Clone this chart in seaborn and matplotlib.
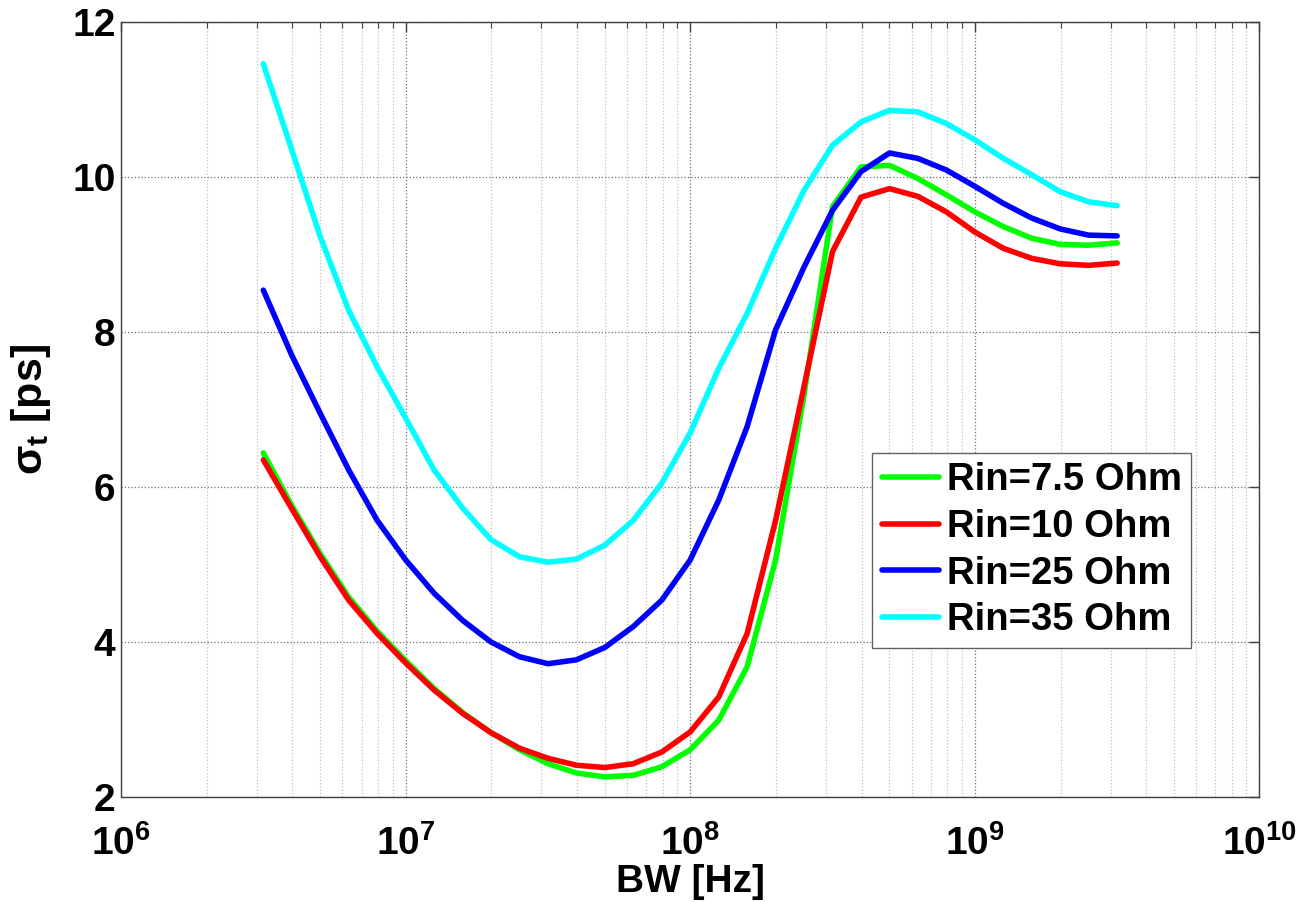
import numpy as np
import pandas as pd
import seaborn as sns
import matplotlib.pyplot as plt
from matplotlib.ticker import LogLocator, NullFormatter, FuncFormatter

# BW sample points, as powers of ten
bw_exp = [6.5, 6.6, 6.7, 6.8, 6.9, 7.0, 7.1, 7.2, 7.3, 7.4, 7.5,
          7.6, 7.7, 7.8, 7.9, 8.0, 8.1, 8.2, 8.3, 8.4, 8.5,
          8.6, 8.7, 8.8, 8.9, 9.0, 9.1, 9.2, 9.3, 9.4, 9.5]

# sigma_t [ps]
sigma_75 = [6.44, 5.76, 5.14, 4.58, 4.14, 3.76, 3.40, 3.09, 2.83, 2.61, 2.43,
            2.31, 2.26, 2.28, 2.39, 2.61, 2.99, 3.68, 5.06, 7.19, 9.62,
            10.13, 10.15, 9.98, 9.77, 9.55, 9.36, 9.21, 9.13, 9.12, 9.15]
sigma_10 = [6.35, 5.72, 5.10, 4.54, 4.11, 3.73, 3.38, 3.08, 2.83, 2.63, 2.50,
            2.41, 2.38, 2.43, 2.58, 2.84, 3.29, 4.11, 5.57, 7.30, 9.04,
            9.74, 9.85, 9.75, 9.55, 9.29, 9.08, 8.95, 8.88, 8.86, 8.89]
sigma_25 = [8.54, 7.70, 6.95, 6.22, 5.57, 5.06, 4.63, 4.28, 4.00, 3.81, 3.72,
            3.77, 3.93, 4.20, 4.54, 5.06, 5.83, 6.78, 8.03, 8.84, 9.57,
            10.07, 10.31, 10.24, 10.09, 9.88, 9.66, 9.47, 9.33, 9.25, 9.24]
sigma_35 = [11.46, 10.35, 9.23, 8.28, 7.55, 6.89, 6.22, 5.73, 5.32, 5.10, 5.03,
            5.07, 5.25, 5.57, 6.05, 6.70, 7.53, 8.24, 9.08, 9.83, 10.41,
            10.71, 10.86, 10.84, 10.69, 10.48, 10.24, 10.03, 9.81, 9.68, 9.63]

labels = ['Rin=7.5 Ohm', 'Rin=10 Ohm', 'Rin=25 Ohm', 'Rin=35 Ohm']
colors = ['#00FF00', '#FF0000', '#0000FF', '#00FFFF']

bw = [10 ** e for e in bw_exp]
frames = []
for lab, vals in zip(labels, [sigma_75, sigma_10, sigma_25, sigma_35]):
    frames.append(pd.DataFrame({'BW': bw, 'sigma': vals, 'Rin': lab}))
df = pd.concat(frames, ignore_index=True)

sns.set_style('white')
plt.rcParams['font.family'] = ['Liberation Sans', 'DejaVu Sans']
plt.rcParams['font.weight'] = 'bold'
plt.rcParams['text.color'] = 'black'
plt.rcParams['axes.labelcolor'] = 'black'
plt.rcParams['mathtext.fontset'] = 'custom'
plt.rcParams['mathtext.rm'] = 'Liberation Sans:bold'
plt.rcParams['mathtext.it'] = 'Liberation Sans:bold'
plt.rcParams['mathtext.bf'] = 'Liberation Sans:bold'
plt.rcParams['mathtext.sf'] = 'Liberation Sans:bold'

fig = plt.figure(figsize=(13.11, 9.02), dpi=100)
ax = fig.add_axes([0.0923, 0.1164, 0.8684, 0.8592])

sns.lineplot(data=df, x='BW', y='sigma', hue='Rin', hue_order=labels,
             palette=colors, linewidth=4, estimator=None, sort=False, ax=ax)

ax.set_xscale('log')
ax.set_xlim(1e6, 1e10)
ax.set_ylim(2, 12)
ax.set_yticks([2, 4, 6, 8, 10, 12])
ax.xaxis.set_major_locator(LogLocator(base=10, numticks=10))
ax.xaxis.set_minor_locator(LogLocator(base=10, subs=np.arange(2, 10), numticks=20))
ax.xaxis.set_minor_formatter(NullFormatter())
ax.xaxis.set_major_formatter(FuncFormatter(
    lambda v, p: r'$\mathbf{10^{%d}}$' % int(round(np.log10(v)))))

ax.grid(which='major', axis='both', linestyle=':', color='#707070', linewidth=0.9)
ax.grid(which='minor', axis='x', linestyle=':', color='#c0c0c0', linewidth=0.9)

ax.tick_params(which='both', direction='in', top=True, right=True,
               color='#404040', labelcolor='black', labelsize=28)
ax.tick_params(which='major', length=7, width=1)
ax.tick_params(which='minor', length=4.5, width=0.8)
ax.tick_params(axis='x', pad=20)
ax.tick_params(axis='y', pad=4)
for lab in ax.get_xticklabels() + ax.get_yticklabels():
    lab.set_fontweight('bold')
for s in ax.spines.values():
    s.set_color('#404040')
    s.set_linewidth(1)

ax.set_xlabel('BW [Hz]', fontsize=28, fontweight='bold')
ax.xaxis.set_label_coords(0.5, -0.086)
ax.set_ylabel(r'$\sigma_t$ [ps]', fontsize=31, fontweight='bold', labelpad=14)

leg = ax.legend(loc='upper left', bbox_to_anchor=(0.660, 0.4443), borderaxespad=0,
                fontsize=27.5, frameon=True, fancybox=False, framealpha=1,
                edgecolor='#606060', handlelength=1.5, handletextpad=0.2,
                labelspacing=0.28, borderpad=0.25)
leg.get_frame().set_linewidth(1)
for t in leg.get_texts():
    t.set_fontweight('bold')
    t.set_color('black')
for h in leg.get_lines():
    h.set_linewidth(4)

fig.savefig('out.png', dpi=100)
